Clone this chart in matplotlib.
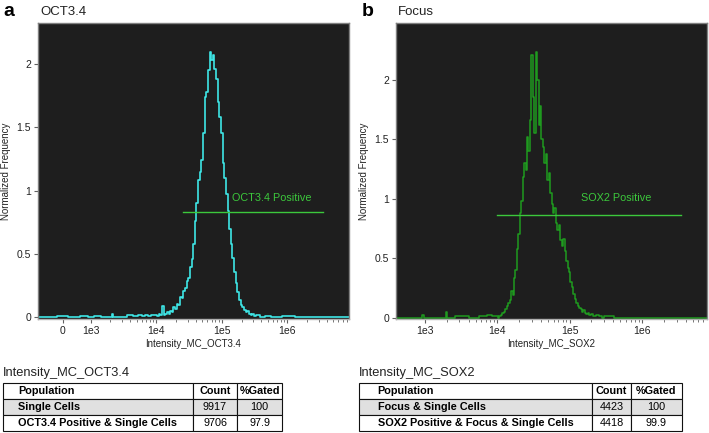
import numpy as np
import matplotlib
matplotlib.use("Agg")
import matplotlib.pyplot as plt
from matplotlib.ticker import FixedLocator, NullFormatter

plt.rcParams['font.family'] = ['Liberation Sans', 'DejaVu Sans']

# ===== panel a : OCT3.4 histogram =====
# linear part of the axis (intensity) and log part (log10 intensity)
a_lin_x = [-900, -400, 0, 400, 800]
a_lin_y = [0.0, 0.0, 0.01, 0.0, 0.01]
a_logx = [3.0, 3.1, 3.2, 3.31, 3.33, 3.35, 3.5, 3.6, 3.7, 3.75, 3.8, 3.85, 3.9, 3.95,
          4.000, 4.025, 4.050, 4.075, 4.100, 4.125, 4.150, 4.175, 4.200, 4.225,
          4.250, 4.275, 4.300, 4.325, 4.350, 4.375, 4.400, 4.425, 4.450, 4.475,
          4.500, 4.525, 4.550, 4.575, 4.600, 4.625, 4.650, 4.675, 4.700, 4.725,
          4.750, 4.775, 4.800, 4.825, 4.850, 4.875, 4.900, 4.925, 4.950, 4.975,
          5.000, 5.025, 5.050, 5.075, 5.100, 5.125, 5.150, 5.175, 5.200, 5.225,
          5.250, 5.275, 5.300, 5.325, 5.350, 5.375, 5.400, 5.425, 5.450, 5.475,
          5.500, 5.550, 5.600, 5.700, 5.800, 6.000, 6.200, 6.500, 6.940]
a_freq = [0.0, 0.01, 0.0, 0.0, 0.025, 0.0, 0.0, 0.02, 0.01, 0.02, 0.01, 0.02, 0.01, 0.02,
          0.02, 0.01, 0.03, 0.02, 0.09, 0.02, 0.03, 0.04, 0.03, 0.05,
          0.04, 0.08, 0.07, 0.11, 0.10, 0.16, 0.15, 0.21, 0.23, 0.29,
          0.31, 0.40, 0.46, 0.58, 0.76, 0.90, 1.08, 1.15, 1.24, 1.45,
          1.74, 1.78, 1.95, 2.09, 2.03, 2.07, 1.96, 1.88, 1.70, 1.58,
          1.45, 1.22, 1.10, 0.97, 0.84, 0.70, 0.58, 0.47, 0.36, 0.27,
          0.20, 0.14, 0.10, 0.08, 0.06, 0.04, 0.05, 0.03, 0.02, 0.03,
          0.01, 0.02, 0.0, 0.01, 0.0, 0.01, 0.0, 0.0, 0.0]
a_gate_y = 0.83
a_gate_x = [2.57e4, 3.5e6]
a_xticks = [0, 1e3, 1e4, 1e5, 1e6]
a_xticklabels = ['0', '1e3', '1e4', '1e5', '1e6']

# ===== panel b : SOX2 histogram =====
b_logx = [2.6, 2.95, 2.97, 2.99, 3.28, 3.30, 3.32, 3.5, 3.7, 3.8, 3.9, 3.95,
          4.00, 4.02, 4.04, 4.06, 4.08, 4.10, 4.12, 4.14, 4.16, 4.18,
          4.20, 4.22, 4.24, 4.26, 4.28, 4.30, 4.32, 4.34, 4.36, 4.38,
          4.40, 4.42, 4.44, 4.46, 4.48, 4.50, 4.52, 4.54, 4.56, 4.58,
          4.60, 4.62, 4.64, 4.66, 4.68, 4.70, 4.72, 4.74, 4.76, 4.78,
          4.80, 4.82, 4.84, 4.86, 4.88, 4.90, 4.92, 4.94, 4.96, 4.98,
          5.00, 5.02, 5.04, 5.06, 5.08, 5.10, 5.12, 5.14, 5.16, 5.18,
          5.20, 5.22, 5.24, 5.26, 5.28, 5.30, 5.34, 5.38, 5.42, 5.46,
          5.50, 5.70, 6.00, 6.90]
b_freq = [0.0, 0.0, 0.025, 0.0, 0.0, 0.05, 0.0, 0.01, 0.0, 0.01, 0.02, 0.01,
          0.01, 0.00, 0.01, 0.02, 0.04, 0.05, 0.07, 0.10, 0.12, 0.15,
          0.22, 0.19, 0.33, 0.40, 0.58, 0.70, 0.88, 0.98, 1.18, 1.30,
          1.24, 1.52, 1.40, 1.66, 2.21, 1.86, 1.55, 2.24, 2.00, 1.62,
          1.78, 1.50, 1.44, 1.30, 1.38, 1.16, 1.22, 1.05, 0.96, 0.88,
          0.92, 0.80, 0.74, 0.78, 0.65, 0.60, 0.66, 0.56, 0.48, 0.42,
          0.38, 0.30, 0.26, 0.20, 0.16, 0.12, 0.10, 0.08, 0.07, 0.05,
          0.06, 0.04, 0.03, 0.04, 0.02, 0.03, 0.01, 0.02, 0.01, 0.0,
          0.01, 0.0, 0.0, 0.0]
b_gate_y = 0.866
b_gate_x = [1.0e4, 3.5e6]
b_xticks = [1e3, 1e4, 1e5, 1e6]
b_xticklabels = ['1e3', '1e4', '1e5', '1e6']

yticks = [0, 0.5, 1, 1.5, 2]
yticklabels = ['0', '0.5', '1', '1.5', '2']

# ===== tables =====
tab_cols = ['Population', 'Count', '%Gated']
tab_a_rows = [['Single Cells', '9917', '100'],
              ['OCT3.4 Positive & Single Cells', '9706', '97.9']]
tab_b_rows = [['Focus & Single Cells', '4423', '100'],
              ['SOX2 Positive & Focus & Single Cells', '4418', '99.9']]

W, H = 709, 433
fig = plt.figure(figsize=(W / 100, H / 100), dpi=100)

def px_axes(x0, y0, x1, y1):
    return fig.add_axes([x0 / W, 1 - y1 / H, (x1 - x0) / W, (y1 - y0) / H])

bg = '#1e1e1e'
gate_col = '#3cc83c'
minor = [m * 10 ** k for k in range(3, 7) for m in range(2, 10)]

def style(ax, ymax):
    ax.set_facecolor(bg)
    ax.set_ylim(-0.012, ymax)
    ax.set_yticks(yticks)
    ax.set_yticklabels(yticklabels)
    for s in ax.spines.values():
        s.set_color('#808080')
        s.set_linewidth(1.0)
    ax.spines['bottom'].set_color('#b0b0b0')
    ax.tick_params(axis='both', which='major', length=3, width=0.8, color='#606060',
                   labelsize=7.5, pad=2, labelcolor='#222222')
    ax.tick_params(axis='x', which='minor', length=2, width=0.6, color='#606060')
    ax.tick_params(axis='y', which='minor', length=0)
    ax.set_ylabel('Normalized Frequency', fontsize=7, labelpad=4, color='#222222')

# ---- panel a
ax1 = px_axes(38, 23, 349, 319)
ax1.set_xscale('symlog', linthresh=1e3, linscale=0.382)
xa = np.concatenate([a_lin_x, 10 ** np.array(a_logx)])
ya = np.concatenate([a_lin_y, a_freq])
ax1.plot(xa, ya, drawstyle='steps-mid', color='#3ee6e6', lw=1.2)
ax1.plot(a_gate_x, [a_gate_y, a_gate_y], color=gate_col, lw=1.0)
ax1.text(5.8e5, 0.945, 'OCT3.4 Positive', color=gate_col, fontsize=7.8,
         ha='center', va='center')
ax1.set_xlim(-893, 8.7e6)
style(ax1, 2.32)
ax1.xaxis.set_major_locator(FixedLocator(a_xticks))
ax1.set_xticklabels(a_xticklabels)
ax1.xaxis.set_minor_locator(FixedLocator(minor))
ax1.xaxis.set_minor_formatter(NullFormatter())
ax1.set_xlabel('Intensity_MC_OCT3.4', fontsize=7, labelpad=2, color='#222222')

# ---- panel b
ax2 = px_axes(396, 23, 707, 319)
ax2.set_xscale('log')
ax2.plot(10 ** np.array(b_logx), b_freq, drawstyle='steps-mid', color='#1f9a1f', lw=1.1)
ax2.plot(b_gate_x, [b_gate_y, b_gate_y], color=gate_col, lw=1.0)
ax2.text(4.4e5, 1.01, 'SOX2 Positive', color=gate_col, fontsize=7.8,
         ha='center', va='center')
ax2.set_xlim(398, 7.9e6)
style(ax2, 2.48)
ax2.xaxis.set_major_locator(FixedLocator(b_xticks))
ax2.set_xticklabels(b_xticklabels)
ax2.xaxis.set_minor_locator(FixedLocator(minor))
ax2.xaxis.set_minor_formatter(NullFormatter())
ax2.set_xlabel('Intensity_MC_SOX2', fontsize=7, labelpad=2, color='#222222')

# ---- panel letters and titles
fig.text(3 / W, 1 - 12 / H, 'a', fontsize=14, fontweight='bold', va='center')
fig.text(40 / W, 1 - 12 / H, 'OCT3.4', fontsize=9.5, va='center', color='#222222')
fig.text(362 / W, 1 - 12 / H, 'b', fontsize=14, fontweight='bold', va='center')
fig.text(398 / W, 1 - 12 / H, 'Focus', fontsize=9.5, va='center', color='#222222')

# ---- tables
def make_table(x0, x1, widths, rows, title):
    fig.text(x0 / W, 1 - 373 / H, title, fontsize=9.3, va='center', color='#222222')
    tax = px_axes(x0, 383, x1, 431)
    tax.axis('off')
    tw = sum(widths)
    t = tax.table(cellText=rows, colLabels=tab_cols, bbox=[0, 0, 1, 1],
                  colWidths=[w / tw for w in widths], cellLoc='center')
    t.auto_set_font_size(False)
    t.set_fontsize(7.8)
    for (r, c), cell in t.get_celld().items():
        cell.set_linewidth(0.8)
        cell.set_edgecolor('#111111')
        txt = cell.get_text()
        if r == 0 or c == 0:
            txt.set_fontweight('bold')
        if c == 0:
            cell._loc = 'left'
            cell.PAD = 0.08
            txt.set_ha('left')
        if r == 1:
            cell.set_facecolor('#e0e0e0')
    return t

make_table(3, 282, [190, 44, 45], tab_a_rows, 'Intensity_MC_OCT3.4')
make_table(359, 682, [233, 39, 51], tab_b_rows, 'Intensity_MC_SOX2')

fig.savefig('out.png', dpi=100)
